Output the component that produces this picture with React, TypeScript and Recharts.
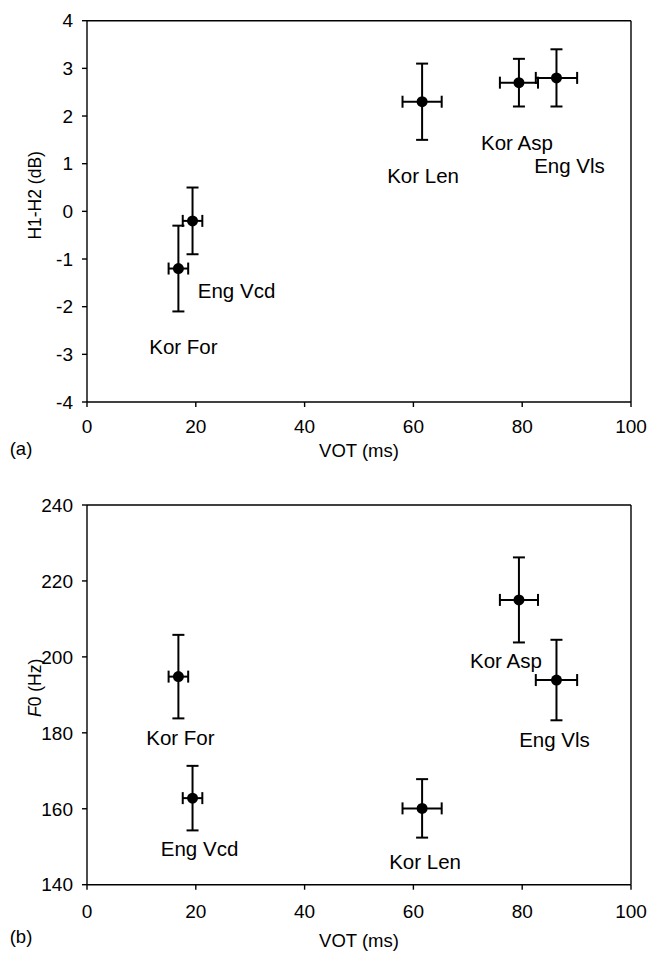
import React from 'react';
import { ScatterChart, Scatter, XAxis, YAxis, ErrorBar, ReferenceLine, Label } from 'recharts';

const categories = ['Kor For', 'Eng Vcd', 'Kor Len', 'Kor Asp', 'Eng Vls'];
const votMs = [16.8, 19.4, 61.6, 79.4, 86.3];
const votErr = [1.8, 1.8, 3.6, 3.5, 3.8];
const h1h2Db = [-1.2, -0.2, 2.3, 2.7, 2.8];
const h1h2Err = [0.9, 0.7, 0.8, 0.5, 0.6];
const f0Hz = [194.8, 162.8, 160.1, 215.0, 193.9];
const f0Err = [11, 8.5, 7.7, 11.2, 10.6];
const xTicks = [0, 20, 40, 60, 80, 100];
const h1h2Ticks = [-4, -3, -2, -1, 0, 1, 2, 3, 4];
const f0Ticks = [140, 160, 180, 200, 220, 240];

// label placement (pixel offsets from each point)
const offsetsA: Record<string, [number, number]> = {
  'Kor For': [5, 78],
  'Eng Vcd': [44, 70],
  'Kor Len': [1, 74],
  'Kor Asp': [-2, 60],
  'Eng Vls': [13, 88],
};
const offsetsB: Record<string, [number, number]> = {
  'Kor For': [2, 61],
  'Eng Vcd': [7, 50],
  'Kor Len': [3, 53],
  'Kor Asp': [-13, 61],
  'Eng Vls': [-2, 59],
};

const dataA = categories.map((name, i) => ({ name, x: votMs[i], y: h1h2Db[i], ex: votErr[i], ey: h1h2Err[i] }));
const dataB = categories.map((name, i) => ({ name, x: votMs[i], y: f0Hz[i], ex: votErr[i], ey: f0Err[i] }));

const FONT = '"Liberation Sans", Arial, sans-serif';
const tickStyle = { fill: '#000', fontSize: 19, fontFamily: FONT };

const makeShape = (offsets: Record<string, [number, number]>) => (props: any) => {
  const { cx, cy, payload } = props;
  const [dx, dy] = offsets[payload.name] || [0, 0];
  return (
    <g>
      <circle cx={cx} cy={cy} r={5.5} fill="#000" />
      <text x={cx + dx} y={cy + dy} textAnchor="middle" dominantBaseline="central" fontSize={20.5} fontFamily={FONT} fill="#000">
        {payload.name}
      </text>
    </g>
  );
};

function Panel({ data, domain, ticks, offsets, yTitle, yTitleShift, panel, height, top, bottom, tickMargin, titleDy, panelDy }: any) {
  return (
    <ScatterChart width={652} height={height} margin={{ top, right: 21, left: 27, bottom }}>
      <XAxis
        type="number"
        dataKey="x"
        domain={[0, 100]}
        ticks={xTicks}
        interval={0}
        tickSize={5}
        tickMargin={tickMargin}
        height={38}
        axisLine={{ stroke: '#000', strokeWidth: 1.4 }}
        tickLine={{ stroke: '#000', strokeWidth: 1.4 }}
        tick={tickStyle}
      >
        <Label
          content={({ viewBox }: any) => (
            <g>
              <text x={viewBox.x + viewBox.width / 2} y={viewBox.y + titleDy} textAnchor="middle" dominantBaseline="central" fontSize={18.5} fontFamily={FONT} fill="#000">
                VOT (ms)
              </text>
              <text x={21} y={viewBox.y + panelDy} textAnchor="middle" dominantBaseline="central" fontSize={18.5} fontFamily={FONT} fill="#000">
                {panel}
              </text>
            </g>
          )}
        />
      </XAxis>
      <YAxis
        type="number"
        dataKey="y"
        domain={domain}
        ticks={ticks}
        interval={0}
        width={60}
        tickSize={5}
        tickMargin={9}
        axisLine={{ stroke: '#000', strokeWidth: 1.4 }}
        tickLine={{ stroke: '#000', strokeWidth: 1.4 }}
        tick={tickStyle}
      >
        <Label
          content={({ viewBox }: any) => {
            const cx = viewBox.x + 8;
            const cy = viewBox.y + viewBox.height / 2 + yTitleShift;
            return (
              <text x={cx} y={cy} transform={`rotate(-90 ${cx} ${cy})`} textAnchor="middle" dominantBaseline="central" fontSize={17.5} fontFamily={FONT} fill="#000">
                {yTitle}
              </text>
            );
          }}
        />
      </YAxis>
      <ReferenceLine y={domain[1]} stroke="#000" strokeWidth={1.4} />
      <ReferenceLine x={100} stroke="#000" strokeWidth={1.4} />
      <Scatter data={data} fill="#000" shape={makeShape(offsets)} isAnimationActive={false}>
        <ErrorBar dataKey="ey" direction="y" width={6} strokeWidth={2} stroke="#000" isAnimationActive={false} />
        <ErrorBar dataKey="ex" direction="x" width={6} strokeWidth={2} stroke="#000" isAnimationActive={false} />
      </Scatter>
    </ScatterChart>
  );
}

export default function App() {
  return (
    <div style={{ position: 'absolute', left: 0, top: 0, width: 652, height: 953, background: '#fff' }}>
      <div style={{ position: 'absolute', left: 0, top: 0 }}>
        <Panel
          data={dataA}
          domain={[-4, 4]}
          ticks={h1h2Ticks}
          offsets={offsetsA}
          yTitle="H1-H2 (dB)"
          yTitleShift={-16}
          panel="(a)"
          height={480}
          top={20.7}
          bottom={40}
          tickMargin={13}
          titleDy={48}
          panelDy={46}
        />
      </div>
      <div style={{ position: 'absolute', left: 0, top: 480 }}>
        <Panel
          data={dataB}
          domain={[140, 240]}
          ticks={f0Ticks}
          offsets={offsetsB}
          yTitle={<><tspan fontStyle="italic">F</tspan>0 (Hz)</>}
          yTitleShift={-7}
          panel="(b)"
          height={473}
          top={25}
          bottom={30.3}
          tickMargin={15}
          titleDy={56}
          panelDy={52}
        />
      </div>
    </div>
  );
}
